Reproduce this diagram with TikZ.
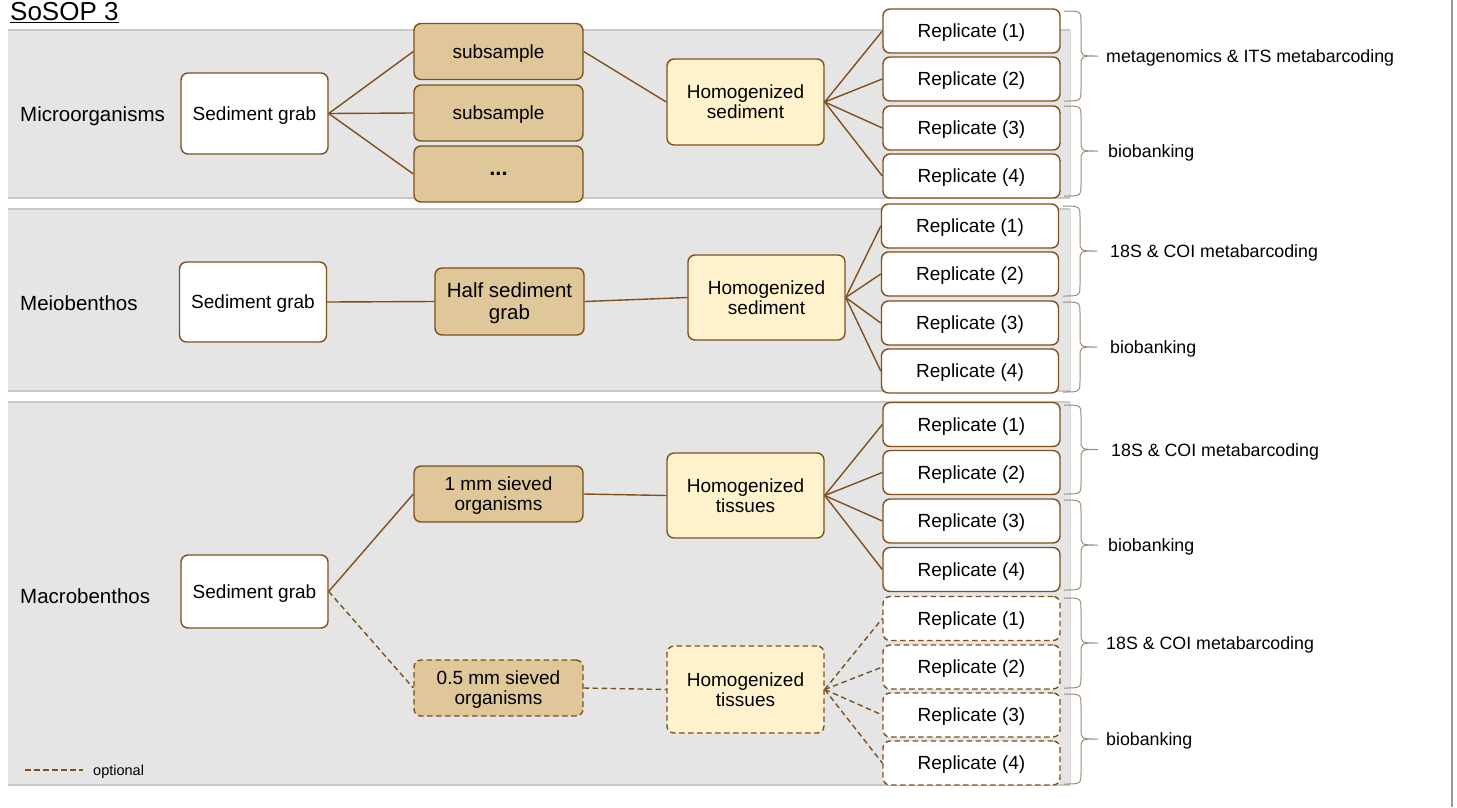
\documentclass[tikz,border=0pt]{standalone}
\usepackage{fontspec}
\setmainfont{Liberation Sans}
\definecolor{brn}{RGB}{127,79,28}
\definecolor{sandfill}{RGB}{223,199,154}
\definecolor{cream}{RGB}{255,242,204}
\definecolor{bandgray}{RGB}{229,229,229}
\definecolor{bandline}{RGB}{200,200,200}
\definecolor{bracecol}{RGB}{160,138,115}
\tikzset{
  nbox/.style={draw=brn, line width=1.4pt, rounded corners=7pt, align=center,
    inner sep=2pt, text=black, text depth=0pt, font=\fontsize{19}{20}\selectfont},
  whitebox/.style={nbox, fill=white},
  sandbox/.style={nbox, fill=sandfill},
  creambox/.style={nbox, fill=cream},
  grabbox/.style={whitebox, minimum width=147pt},
  subbox/.style={sandbox, minimum width=169pt, minimum height=56pt},
  homobox/.style={creambox, minimum width=157pt, minimum height=86pt},
  repbox/.style={whitebox, minimum width=177pt, minimum height=44pt},
  optional/.style={dash pattern=on 5.5pt off 3.5pt},
  link/.style={draw=brn, line width=1.4pt},
  bracestroke/.style={draw=bracecol, line width=1pt},
  bracelabel/.style={anchor=west, inner sep=0pt, yshift=-2pt, text=black, font=\fontsize{17.8}{20}\selectfont},
  grouplabel/.style={anchor=west, inner sep=0pt, yshift=-2.5pt, text=black, font=\fontsize{20.5}{22}\selectfont},
  band/.style={fill=bandgray, draw=none},
  bandedge/.style={draw=bandline, line width=1.5pt}
}
% curly brace: left x, top y, bottom y, label x, label
\newcommand\sopbrace[5]{%
  \pgfmathsetmacro\bxa{#1+17}\pgfmathsetmacro\bxb{#1+34}%
  \pgfmathsetmacro\bmid{(#2+#3)/2}%
  \pgfmathsetmacro\bya{#2+12}\pgfmathsetmacro\byb{\bmid-10}%
  \pgfmathsetmacro\byc{\bmid+10}\pgfmathsetmacro\byd{#3-12}%
  \draw[bracestroke] (#1,#2) .. controls (\bxa,#2) and (\bxa,#2) .. (\bxa,\bya)
    -- (\bxa,\byb) .. controls (\bxa,\bmid) and (\bxa,\bmid) .. (\bxb,\bmid)
    .. controls (\bxa,\bmid) and (\bxa,\bmid) .. (\bxa,\byc)
    -- (\bxa,\byd) .. controls (\bxa,#3) and (\bxa,#3) .. (#1,#3);
  \node[bracelabel] at (#4,\bmid) {#5};%
}
\begin{document}
\begin{tikzpicture}[x=1pt, y=-1pt]
\useasboundingbox (0,0) rectangle (1457,807);

% frame line at the right
\draw[draw=gray!80, line width=2pt] (1452,0) -- (1452,807);

% title
\node[anchor=west, inner sep=0pt, font=\fontsize{26}{28}\selectfont] (title) at (10,13) {\underline{SoSOP 3}};

% background bands
\foreach \t/\b in {30/198, 209/391, 402/785}{
  \fill[band] (8,\t) rectangle (1070,\b);
  \draw[bandedge] (8,\t) -- (1070,\t);
  \draw[bandedge] (8,\b) -- (1070,\b);
  \draw[draw=bandline!70, line width=1pt] (1070,\t) -- (1070,\b);
}

% ---------- Microorganisms ----------
\node[grouplabel] (lmicro) at (20,114) {Microorganisms};
\node[grabbox, minimum height=81pt] (g1) at (254.5,113.5) {Sediment grab};
\node[subbox] (s1) at (498.5,51.5) {subsample};
\node[subbox] (s2) at (498.5,113) {subsample};
\node[subbox, font=\fontsize{22}{22}\selectfont] (s3) at (498.5,174) {\textbf{...}};
\node[homobox] (h1) at (745.5,102) {Homogenized\\sediment};
\node[repbox] (a1) at (971.5,31) {Replicate (1)};
\node[repbox] (a2) at (971.5,79) {Replicate (2)};
\node[repbox] (a3) at (971.5,128) {Replicate (3)};
\node[repbox] (a4) at (971.5,176) {Replicate (4)};
\foreach \s in {s1,s2,s3} \draw[link] (g1.east) -- (\s.west);
\draw[link] (s1.east) -- (h1.west);
\foreach \r in {a1,a2,a3,a4} \draw[link] (h1.east) -- (\r.west);
\sopbrace{1064}{11}{101}{1106}{metagenomics \& ITS metabarcoding}
\sopbrace{1064}{106}{196}{1108}{biobanking}

% ---------- Meiobenthos ----------
\node[grouplabel] (lmeio) at (20,301) {Meiobenthos};
\node[grabbox, minimum height=80pt] (g2) at (253,302) {Sediment grab};
\node[sandbox, minimum width=149pt, minimum height=67pt,
      font=\fontsize{20.5}{22}\selectfont] (half) at (509.5,301.5) {Half sediment\\grab};
\node[homobox, minimum height=85pt] (h2) at (766.5,297.5) {Homogenized\\sediment};
\node[repbox] (b1) at (970,226) {Replicate (1)};
\node[repbox] (b2) at (970,274) {Replicate (2)};
\node[repbox] (b3) at (970,323) {Replicate (3)};
\node[repbox] (b4) at (970,371) {Replicate (4)};
\draw[link] (g2.east) -- (half.west);
\draw[link] (half.east) -- (h2.west);
\foreach \r in {b1,b2,b3,b4} \draw[link] (h2.east) -- (\r.west);
\sopbrace{1063}{206}{296}{1110}{18S \& COI metabarcoding}
\sopbrace{1063}{302}{392}{1110}{biobanking}

% ---------- Macrobenthos ----------
\node[grouplabel] (lmacro) at (20,594) {Macrobenthos};
\node[grabbox, minimum height=73pt] (g3) at (254.5,591.5) {Sediment grab};
\node[subbox] (m1) at (498.5,494) {1 mm sieved\\organisms};
\node[homobox, minimum height=85pt] (h3) at (745.5,495.5) {Homogenized\\tissues};
\node[repbox] (c1) at (971.5,424.5) {Replicate (1)};
\node[repbox] (c2) at (971.5,472.5) {Replicate (2)};
\node[repbox] (c3) at (971.5,521) {Replicate (3)};
\node[repbox] (c4) at (971.5,569.5) {Replicate (4)};
\draw[link] (g3.east) -- (m1.west);
\draw[link] (m1.east) -- (h3.west);
\foreach \r in {c1,c2,c3,c4} \draw[link] (h3.east) -- (\r.west);
\sopbrace{1064}{405}{494}{1111}{18S \& COI metabarcoding}
\sopbrace{1064}{500}{590}{1108}{biobanking}

% optional branch
\node[subbox, optional] (m2) at (498.5,688) {0.5 mm sieved\\organisms};
\node[homobox, optional, minimum height=87pt] (h4) at (745.5,689.5) {Homogenized\\tissues};
\node[repbox, optional] (d1) at (971.5,618.5) {Replicate (1)};
\node[repbox, optional] (d2) at (971.5,667) {Replicate (2)};
\node[repbox, optional] (d3) at (971.5,715) {Replicate (3)};
\node[repbox, optional] (d4) at (971.5,763) {Replicate (4)};
\draw[link, optional] (g3.east) -- (m2.west);
\draw[link, optional] (m2.east) -- (h4.west);
\foreach \r in {d1,d2,d3,d4} \draw[link, optional] (h4.east) -- (\r.west);
\sopbrace{1064}{598}{688}{1106}{18S \& COI metabarcoding}
\sopbrace{1064}{694}{784}{1106}{biobanking}

% legend
\coordinate (lga) at (25,770);
\coordinate (lgb) at (83,770);
\draw[link, optional, line width=1.3pt] (lga) -- (lgb);
\node[anchor=west, inner sep=0pt, yshift=-1.5pt, font=\fontsize{14.5}{16}\selectfont] (lgt) at (93,770) {optional};
\end{tikzpicture}
\end{document}
